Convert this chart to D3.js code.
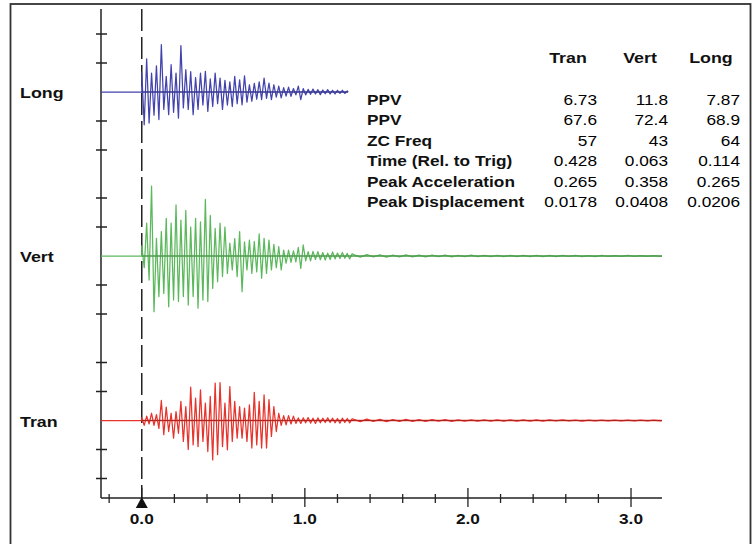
<!DOCTYPE html>
<html>
<head>
<meta charset="utf-8">
<style>
body
{
  margin:0;
  background:#fff;
}
svg text
{
  font-family:"Liberation Sans", Arial, sans-serif;
}
</style>
<script src="https://cdnjs.cloudflare.com/ajax/libs/d3/7.8.5/d3.min.js"></script>
</head>
<body>
<script>
// channels, top to bottom
var channels = ["Long", "Vert", "Tran"];
var channelColors = ["#4343ad", "#5cb85c", "#e6332c"];
var traceEnd = [1.265, 3.19, 3.19];

// sample step of the waveform peaks (s)
var dt = 0.015;
var tailDt = 0.04;
var tailStart = 1.30;

// peak values, in tick units (1 unit = one tick step)
var longValues = [0.66,-1.13,1.14,-1.07,0.65,-0.8,0.9,-0.95,1.63,-0.6,
  0.54,-0.78,0.94,-0.7,0.65,-0.9,1.6,-0.55,0.77,-0.6,
  0.7,-0.78,0.5,-0.6,0.65,-0.45,0.71,-0.67,0.45,-0.5,
  0.65,-0.4,0.48,-0.6,0.4,-0.45,0.35,-0.5,0.54,-0.4,
  0.42,-0.44,0.56,-0.35,0.25,-0.32,0.3,-0.25,0.35,-0.26,
  0.48,-0.22,0.31,-0.26,0.25,-0.18,0.2,-0.2,0.15,-0.14,
  0.17,-0.15,0.12,-0.1,0.2,-0.26,0.12,-0.1,0.09,-0.08,
  0.1,-0.07,0.08,-0.09,0.07,-0.06,0.08,-0.07,0.06,-0.07,
  0.06,-0.05,0.06,-0.05,0.04];

var vertValues = [0.35,-0.4,1.13,-0.83,2.41,-1.92,0.61,-1.4,0.84,-1.29,
  1.3,-1.75,1.13,-1.52,1.76,-1.57,1.24,-1.4,1.57,-1.69,
  1.0,-1.4,1.3,-1.8,1.18,-1.52,1.95,-1.57,1.4,-1.12,
  0.95,-0.89,1.13,-0.71,1.0,-0.6,0.44,-0.48,0.6,-0.71,
  0.84,-1.23,0.49,-0.48,0.55,-0.6,0.5,-0.55,0.76,-0.77,
  0.61,-0.6,0.55,-0.48,0.4,-0.4,0.32,-0.48,0.2,-0.25,
  0.2,-0.22,0.18,-0.2,0.3,-0.43,0.38,-0.17,0.15,-0.17,
  0.16,-0.12,0.15,-0.13,0.12,-0.14,0.1,-0.12,0.14,-0.1,
  0.1,-0.09,0.12,-0.08,0.09,-0.1,0.08];
var vertTail = [0.05,-0.04,0.05,-0.03,0.04,-0.04,0.03,-0.03,0.04,-0.03,
  0.03,-0.03,0.03,-0.02,0.03,-0.03,0.02,-0.02,0.03,-0.02,
  0.02,-0.02,0.02,-0.02,0.02,-0.02,0.02,-0.02,0.02,-0.02,
  0.02,-0.02,0.02,-0.01,0.02,-0.02,0.01,-0.02,0.02,-0.01,
  0.01,-0.01,0.02,-0.01,0.01,-0.01,0.01,-0.01];

var tranValues = [0.1,-0.17,0.15,-0.12,0.25,-0.17,0.2,-0.27,0.69,-0.49,
  0.46,-0.38,0.25,-0.61,0.31,-0.44,0.66,-0.72,0.48,-1.0,
  1.15,-0.84,0.77,-0.9,1.06,-0.72,0.6,-1.07,0.83,-1.36,
  1.29,-1.18,1.31,-0.9,0.6,-1.01,1.17,-0.72,0.66,-0.61,
  0.48,-0.61,0.43,-0.72,0.54,-0.95,0.97,-0.84,0.66,-0.95,
  0.88,-0.95,0.72,-0.55,0.48,-0.38,0.25,-0.17,0.17,-0.15,
  0.17,-0.12,0.15,-0.1,0.09,-0.1,0.09,-0.08,0.1,-0.09,
  0.08,-0.1,0.09,-0.08,0.08,-0.07,0.09,-0.07,0.08,-0.08,
  0.07,-0.09,0.08,-0.07,0.07,-0.08,0.06];
var tranTail = [0.04,-0.04,0.05,-0.03,0.04,-0.04,0.03,-0.03,0.04,-0.03,
  0.03,-0.03,0.03,-0.02,0.03,-0.03,0.02,-0.02,0.02,-0.02,
  0.02,-0.02,0.02,-0.02,0.02,-0.02,0.02,-0.02,0.02,-0.02,
  0.02,-0.01,0.02,-0.01,0.01,-0.02,0.01,-0.01,0.01,-0.01,
  0.01,-0.01,0.01,-0.01,0.01,-0.01,0.01,-0.01];

var traces = [[longValues, []], [vertValues, vertTail], [tranValues, tranTail]];

// time axis
var majorTicks = [0, 1, 2, 3];
var xTickLabels = ["0.0", "1.0", "2.0", "3.0"];
var yTickUnits = [-2, -1, 1, 2];

// table
var tableCols = ["Tran", "Vert", "Long"];
var tableRows = ["PPV", "PPV", "ZC Freq", "Time (Rel. to Trig)", "Peak Acceleration", "Peak Displacement"];
var tranCol = ["6.73", "67.6", "57", "0.428", "0.265", "0.0178"];
var vertCol = ["11.8", "72.4", "43", "0.063", "0.358", "0.0408"];
var longCol = ["7.87", "68.9", "64", "0.114", "0.265", "0.0206"];
var tableVals = [tranCol, vertCol, longCol];

var W = 754, H = 544;
var stretch = 1.15;

var svg = d3.select("body")
.append("svg")
.attr("width", W)
.attr("height", H);

// outer frame
svg.append("rect")
.attr("x", 10.5).attr("y", 4)
.attr("width", 740).attr("height", 560)
.attr("fill", "none")
.attr("stroke", "#333")
.attr("stroke-width", 1.8);

var x = d3.scaleLinear().domain([-0.25, 3.19]).range([101, 662]);
var axisY = 498;
var baselines = [92, 256, 420.5];
var unitPx = 29;

var yScales = baselines.map(function(b){
  return d3.scaleLinear().domain([-1, 1]).range([b + unitPx, b - unitPx]);
});

function label(g, txt, px, py, anchor, weight, size)
{
  return g.append("text")
  .attr("transform", "translate(" + px + "," + py + ") scale(" + stretch + ",1)")
  .attr("text-anchor", anchor)
  .attr("font-weight", weight)
  .attr("font-size", size)
  .attr("fill", "#111")
  .text(txt);
}

// y axis line and ticks
svg.append("line")
.attr("x1", 101).attr("x2", 101)
.attr("y1", 9).attr("y2", axisY)
.attr("stroke", "#222").attr("stroke-width", 1.5);

yScales.forEach(function(ys){
  svg.selectAll(null)
  .data(yTickUnits)
  .enter().append("line")
  .attr("x1", 96).attr("x2", 107)
  .attr("y1", function(d){ return ys(d); })
  .attr("y2", function(d){ return ys(d); })
  .attr("stroke", "#222").attr("stroke-width", 1.5);
});

// trigger line
svg.append("line")
.attr("x1", x(0)).attr("x2", x(0))
.attr("y1", 9).attr("y2", axisY)
.attr("stroke", "#222").attr("stroke-width", 1.5)
.attr("stroke-dasharray", "22,6");

// traces
var line = d3.line();
channels.forEach(function(name, c){
  var ys = yScales[c];
  var pts = [[x(-0.25), ys(0)], [x(0), ys(0)]];
  var vals = traces[c][0];
  vals.forEach(function(v, i){
    pts.push([x(i * dt), ys(v)]);
  });
  traces[c][1].forEach(function(v, i){
    pts.push([x(tailStart + i * tailDt), ys(v)]);
  });
  pts.push([x(traceEnd[c]), ys(0)]);

  svg.append("line")
  .attr("x1", x(0)).attr("x2", x(traceEnd[c]))
  .attr("y1", ys(0)).attr("y2", ys(0))
  .attr("stroke", channelColors[c])
  .attr("stroke-width", 1.3);

  svg.append("path")
  .attr("d", line(pts))
  .attr("fill", "none")
  .attr("stroke", channelColors[c])
  .attr("stroke-width", 1.25)
  .attr("stroke-linejoin", "round");

  // darker zero line over the trace
  svg.append("line")
  .attr("x1", x(0)).attr("x2", x(traceEnd[c]))
  .attr("y1", ys(0)).attr("y2", ys(0))
  .attr("stroke", "#000").attr("stroke-opacity", 0.3)
  .attr("stroke-width", 0.8);

  label(svg, name, 20, ys(0) + 6, "start", "bold", 15.5);
});

// x axis
svg.append("line")
.attr("x1", 101).attr("x2", 662)
.attr("y1", axisY).attr("y2", axisY)
.attr("stroke", "#222").attr("stroke-width", 1.5);

var minorTicks = d3.range(-0.2, 3.1, 0.2).filter(function(d){
  return Math.abs(d - Math.round(d)) > 0.01;
});
svg.selectAll(null)
.data(minorTicks)
.enter().append("line")
.attr("x1", function(d){ return x(d); })
.attr("x2", function(d){ return x(d); })
.attr("y1", axisY - 4).attr("y2", axisY + 5)
.attr("stroke", "#222").attr("stroke-width", 1.3);

svg.selectAll(null)
.data(majorTicks)
.enter().append("line")
.attr("x1", function(d){ return x(d); })
.attr("x2", function(d){ return x(d); })
.attr("y1", axisY - 10).attr("y2", function(d){ return d == 0 ? axisY : axisY + 9; })
.attr("stroke", "#222").attr("stroke-width", 1.3);

majorTicks.forEach(function(d, i){
  label(svg, xTickLabels[i], x(d), 524, "middle", "bold", 15);
});

// trigger marker
svg.append("path")
.attr("d", "M" + x(0) + "," + (axisY - 1) + " L" + (x(0) + 6) + "," + (axisY + 10) + " L" + (x(0) - 6) + "," + (axisY + 10) + " Z")
.attr("fill", "#111");

// table
var colRight = [597, 668, 740];
var colHead = [568, 640, 711];
var rowY0 = 100, rowStep = 20.4;

tableCols.forEach(function(h, j){
  label(svg, h, colHead[j], 63, "middle", "bold", 15.5);
});
tableRows.forEach(function(r, i){
  var yy = rowY0 + i * rowStep + 5;
  label(svg, r, 367, yy, "start", "bold", 15);
  tableVals.forEach(function(col, j){
    label(svg, col[i], colRight[j], yy, "end", "normal", 15)
    .attr("fill", "#000");
  });
});
</script>
</body>
</html>
